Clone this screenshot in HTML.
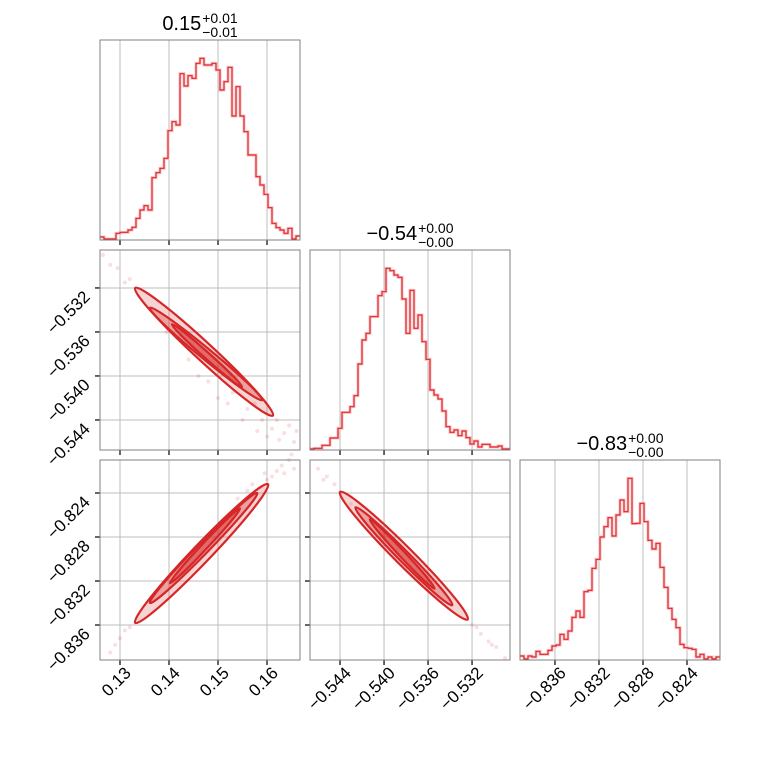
<!DOCTYPE html>
<html><head><meta charset="utf-8"><style>
body{margin:0;background:#fff}
svg{font-family:"Liberation Sans","DejaVu Sans",sans-serif}
</style></head><body>
<svg id="c" width="760" height="760" viewBox="0 0 760 760" xmlns="http://www.w3.org/2000/svg"></svg>
<script>
// ---- data ----
const hist1 = [9,3,3,3,20,23,23,30,38,65,90,103,90,187,202,215,245,328,355,345,499,462,493,485,530,545,525,525,530,510,450,475,518,372,460,372,325,255,255,190,165,137,97,50,37,30,20,35,3,12];
const hist2 = [3,5,5,14,14,36,36,65,113,113,130,163,258,330,350,400,400,463,475,545,538,525,518,453,350,479,365,405,325,272,180,165,153,117,70,53,60,43,57,37,18,27,9,17,17,9,9,12,3,3];
const hist3 = [12,3,12,9,26,17,17,29,42,45,77,62,87,128,147,128,205,209,275,302,369,400,427,372,435,480,445,545,409,410,470,415,359,333,350,278,218,155,122,97,47,37,35,32,9,17,3,9,3,9];
const range1 = [0.12592, 0.16673];
const range2 = [-0.54673, -0.52855];
const range3 = [-0.83918, -0.82100];
const ticks1 = [0.13, 0.14, 0.15, 0.16];
const ticks2 = [-0.544, -0.540, -0.536, -0.532];
const ticks3 = [-0.836, -0.832, -0.828, -0.824];
const tickLabels1 = ["0.13","0.14","0.15","0.16"];
const tickLabels2 = ["\u22120.544","\u22120.540","\u22120.536","\u22120.532"];
const tickLabels3 = ["\u22120.836","\u22120.832","\u22120.828","\u22120.824"];
const titles = [["0.15","+0.01","\u22120.01"],["\u22120.54","+0.00","\u22120.00"],["\u22120.83","+0.00","\u22120.00"]];
const contours21 = [[0.1331,-0.5320,0.1612,-0.5436],[0.1361,-0.5338,0.1590,-0.5422],[0.1406,-0.5353,0.1549,-0.5410]];
const contours31 = [[0.1331,-0.8358,0.1602,-0.8232],[0.1361,-0.8340,0.1580,-0.8240],[0.1402,-0.8322,0.1545,-0.8254]];
const contours32 = [[-0.5440,-0.8239,-0.5324,-0.8355],[-0.5426,-0.8253,-0.5338,-0.8342],[-0.5413,-0.8264,-0.5354,-0.8327]];
const pts21 = [[0.1265,-0.5290],[0.1280,-0.5299],[0.1295,-0.5302],[0.1310,-0.5315],[0.1320,-0.5312],[0.1395,-0.5360],[0.1440,-0.5385],[0.1480,-0.5405],[0.1530,-0.5415],[0.1560,-0.5430],[0.1590,-0.5440],[0.1610,-0.5448],[0.1620,-0.5440],[0.1635,-0.5452],[0.1645,-0.5445],[0.1655,-0.5460],[0.1600,-0.5455],[0.1575,-0.5425],[0.1520,-0.5425],[0.1420,-0.5365],[0.1460,-0.5400],[0.1500,-0.5420],[0.1550,-0.5440],[0.1580,-0.5450],[0.1625,-0.5458],[0.1660,-0.5450]];
const pts31 = [[0.1280,-0.8385],[0.1290,-0.8378],[0.1300,-0.8372],[0.1310,-0.8365],[0.1320,-0.8362],[0.1585,-0.8235],[0.1600,-0.8228],[0.1610,-0.8225],[0.1620,-0.8220],[0.1630,-0.8215],[0.1645,-0.8210],[0.1655,-0.8218],[0.1560,-0.8238],[0.1540,-0.8245],[0.1570,-0.8232],[0.1595,-0.8222],[0.1635,-0.8222],[0.1650,-0.8205]];
const pts32 = [[-0.5460,-0.8218],[-0.5452,-0.8225],[-0.5445,-0.8232],[-0.5320,-0.8360],[-0.5312,-0.8368],[-0.5305,-0.8375],[-0.5298,-0.8380],[-0.5290,-0.8390],[-0.5430,-0.8250],[-0.5400,-0.8278],[-0.5455,-0.8228],[-0.5316,-0.8362],[-0.5302,-0.8378]];
const histMax = 600;

// ---- drawing ----
const NS="http://www.w3.org/2000/svg", svg=document.getElementById('c');
function el(tag,attrs,parent){const e=document.createElementNS(NS,tag);for(const k in attrs)e.setAttribute(k,attrs[k]);(parent||svg).appendChild(e);return e;}
const colX=[100,310,520], rowY=[40,250,460], S=200;
const ranges=[range1,range2,range3], ticks=[ticks1,ticks2,ticks3], tlabels=[tickLabels1,tickLabels2,tickLabels3];
function sx(c,v){const r=ranges[c];return colX[c]+(v-r[0])/(r[1]-r[0])*S;}
function sy(rw,v){const r=ranges[rw];return rowY[rw]+S-(v-r[0])/(r[1]-r[0])*S;}
const RED="#d62728";

function panel(r,c,name){
  const g=el('g',{});
  
  
  ticks[c].forEach(t=>{const x=sx(c,t);el('line',{x1:x,x2:x,y1:rowY[r],y2:rowY[r]+S,stroke:'#bdbdbd','stroke-width':1},g);
    el('line',{x1:x,x2:x,y1:rowY[r]+S,y2:rowY[r]+S+5,stroke:'#000','stroke-width':1.2},g);});
  if(r!==c){ticks[r].forEach(t=>{const y=sy(r,t);el('line',{x1:colX[c],x2:colX[c]+S,y1:y,y2:y,stroke:'#bdbdbd','stroke-width':1},g);
    el('line',{x1:colX[c]-5,x2:colX[c],y1:y,y2:y,stroke:'#000','stroke-width':1.2},g);});}
  return g;
}
function frame(r,c,g){el('rect',{x:colX[c],y:rowY[r],width:S,height:S,fill:'none',stroke:'#808080','stroke-width':1},g);}

[hist1,hist2,hist3].forEach((h,i)=>{
  const g=panel(i,i,'histogram-param'+(i+1));
  const n=h.length, r=ranges[i], bw=(r[1]-r[0])/n, base=rowY[i]+S;
  let d='';
  h.forEach((v,k)=>{const x0=sx(i,r[0]+k*bw), x1=sx(i,r[0]+(k+1)*bw), y=base-v/histMax*S;
    d+=(k===0?'M'+x0+','+y:'L'+x0+','+y)+'L'+x1+','+y;});
  el('path',{d:d,fill:'none',stroke:'#f6c4c6','stroke-width':3},g);
  const p=el('path',{d:d,fill:'none',stroke:'#e3242b','stroke-width':1.2},g);
  
  
  frame(i,i,g);
  const cx=colX[i]+S/2, t=titles[i];
  const tt=el('text',{x:0,y:rowY[i]-10,'font-size':20},svg);tt.textContent=t[0];
  
  
  const sp=el('text',{x:0,y:rowY[i]-17,'font-size':14},svg);sp.textContent=t[1];
  
  
  const sb=el('text',{x:0,y:rowY[i]-3,'font-size':14},svg);sb.textContent=t[2];
  
  
  const w1=tt.getComputedTextLength(), w2=Math.max(sp.getComputedTextLength(),sb.getComputedTextLength());
  const x0=cx-(w1+w2+1)/2;
  tt.setAttribute('x',x0);sp.setAttribute('x',x0+w1+1);sb.setAttribute('x',x0+w1+1);
});

function twoD(r,c,cont,pts,name){
  const g=panel(r,c,name);
  pts.forEach(p=>{const d=el('circle',{cx:sx(c,p[0]),cy:sy(r,p[1]),r:2,fill:'rgba(214,39,40,0.15)'},g);
    
    });
  const fills=['rgba(214,39,40,0.2)','rgba(214,39,40,0.3)','rgba(214,39,40,0.45)'];
  const widths=[18,11,6];
  cont.forEach((q,k)=>{const x1=sx(c,q[0]),y1=sy(r,q[1]),x2=sx(c,q[2]),y2=sy(r,q[3]);
    const cx=(x1+x2)/2, cy=(y1+y2)/2, len=Math.hypot(x2-x1,y2-y1)/2, ang=Math.atan2(y2-y1,x2-x1)*180/Math.PI;
    const e=el('ellipse',{cx:cx,cy:cy,rx:len,ry:widths[k]/2,transform:`rotate(${ang} ${cx} ${cy})`,fill:fills[k],stroke:RED,'stroke-width':2.2},g);
    
    });
  frame(r,c,g);
}
twoD(1,0,contours21,pts21,'scatter-param1-vs-param2');
twoD(2,0,contours31,pts31,'scatter-param1-vs-param3');
twoD(2,1,contours32,pts32,'scatter-param2-vs-param3');

for(let c=0;c<3;c++){ticks[c].forEach((t,k)=>{const x=sx(c,t)+12, y=674;
  const tx=el('text',{x:x,y:y,'font-size':17,'text-anchor':'end',transform:`rotate(-45 ${x} ${y})`});tx.textContent=tlabels[c][k];
  
  });}
for(let r=1;r<3;r++){ticks[r].forEach((t,k)=>{const x=91, y=sy(r,t)+10;
  const tx=el('text',{x:x,y:y,'font-size':17,'text-anchor':'end',transform:`rotate(-45 ${x} ${y})`});tx.textContent=tlabels[r][k];
  
  });}
</script>
</body></html>
